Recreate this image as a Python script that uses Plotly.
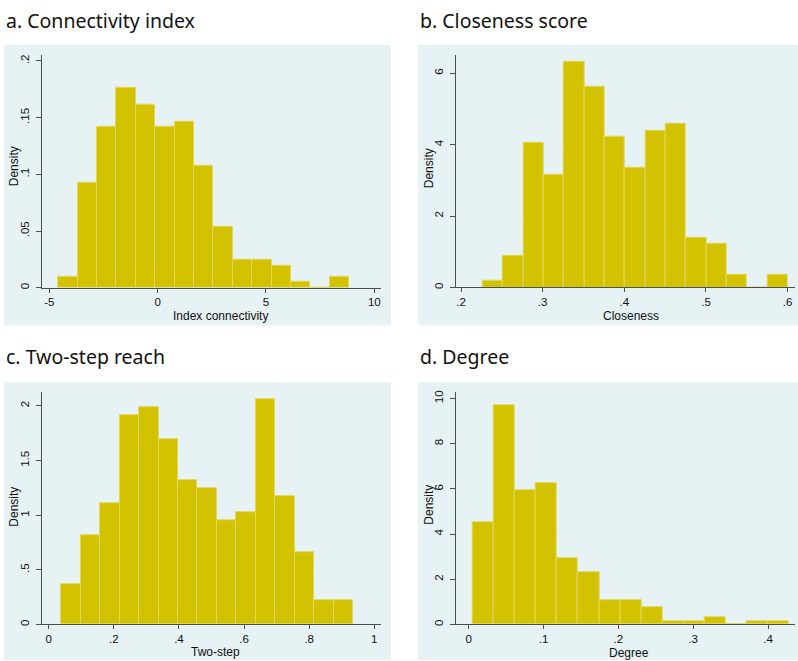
import plotly.graph_objects as go

W, H = 798, 661

# ---- data ----
# a. Connectivity index
a_start = -4.585
a_width = 0.895
a_density = [0.0094, 0.0927, 0.1419, 0.1760, 0.1616, 0.1419, 0.1466, 0.1076,
             0.0540, 0.0246, 0.0246, 0.0194, 0.0050, 0.0, 0.0094]
a_xticks = [-5, 0, 5, 10]
a_xlabels = ["-5", "0", "5", "10"]
a_yticks = [0, 0.05, 0.1, 0.15, 0.2]
a_ylabels = ["0", ".05", ".1", ".15", ".2"]

# b. Closeness score
b_start = 0.2265
b_width = 0.0249
b_density = [0.186, 0.874, 4.056, 3.163, 6.335, 5.628, 4.223, 3.340,
             4.400, 4.577, 1.405, 1.237, 0.344, 0.0, 0.344]
b_xticks = [0.2, 0.3, 0.4, 0.5, 0.6]
b_xlabels = [".2", ".3", ".4", ".5", ".6"]
b_yticks = [0, 2, 4, 6]
b_ylabels = ["0", "2", "4", "6"]

# c. Two-step reach
c_start = 0.0389
c_width = 0.0597
c_density = [0.364, 0.813, 1.105, 1.918, 1.991, 1.693, 1.323, 1.250,
             0.956, 1.029, 2.061, 1.178, 0.662, 0.219, 0.219]
c_xticks = [0, 0.2, 0.4, 0.6, 0.8, 1]
c_xlabels = ["0", ".2", ".4", ".6", ".8", "1"]
c_yticks = [0, 0.5, 1, 1.5, 2]
c_ylabels = ["0", ".5", "1", "1.5", "2"]

# d. Degree
d_start = 0.0058
d_width = 0.0281
d_density = [4.54, 9.72, 5.95, 6.26, 2.95, 2.33, 1.09, 1.09,
             0.76, 0.13, 0.13, 0.31, 0.0, 0.13, 0.13]
d_xticks = [0, 0.1, 0.2, 0.3, 0.4]
d_xlabels = ["0", ".1", ".2", ".3", ".4"]
d_yticks = [0, 2, 4, 6, 8, 10]
d_ylabels = ["0", "2", "4", "6", "8", "10"]

titles = ["a. Connectivity index", "b. Closeness score", "c. Two-step reach", "d. Degree"]
xtitles = ["Index connectivity", "Closeness", "Two-step", "Degree"]

# ---- styling / layout ----
BAR = "#d2c200"
BAR_EDGE = "#e3d75e"
PANEL = "#e6f2f4"
GRID = "#e8f1f2"
AXIS = "#4d4d4d"

panels = [
    dict(start=a_start, width=a_width, dens=a_density, xt=a_xticks, xl=a_xlabels,
         yt=a_yticks, yl=a_ylabels, xr=[-5.337, 10.31], yr=[0, 0.2055],
         px=(42, 381), py=(53, 287), box=(4, 43, 391, 325),
         title_xy=(4, 19), xtitle_xy=(220, 315), ytitle_xy=(14, 165)),
    dict(start=b_start, width=b_width, dens=b_density, xt=b_xticks, xl=b_xlabels,
         yt=b_yticks, yl=b_ylabels, xr=[0.1935, 0.609], yr=[0, 6.52],
         px=(455.7, 795), py=(53, 286.7), box=(418, 43, 798, 325),
         title_xy=(418, 19), xtitle_xy=(631, 315), ytitle_xy=(429, 167)),
    dict(start=c_start, width=c_width, dens=c_density, xt=c_xticks, xl=c_xlabels,
         yt=c_yticks, yl=c_ylabels, xr=[-0.0206, 1.0205], yr=[0, 2.125],
         px=(42, 381), py=(392, 625.3), box=(4, 382, 391, 661),
         title_xy=(4, 356), xtitle_xy=(215, 653), ytitle_xy=(14, 507)),
    dict(start=d_start, width=d_width, dens=d_density, xt=d_xticks, xl=d_xlabels,
         yt=d_yticks, yl=d_ylabels, xr=[-0.01737, 0.436], yr=[0, 10.28],
         px=(455.7, 795), py=(392, 625.3), box=(418, 382, 798, 661),
         title_xy=(418, 356), xtitle_xy=(629, 654), ytitle_xy=(429, 505)),
]

fig = go.Figure()
shapes = []
annotations = []
layout = {}

def fx(px):
    return px / W

def fy(py):
    return 1 - py / H

TICKFONT = dict(family="Liberation Sans, Arial", size=11.5, color="#111")
LABFONT = dict(family="Liberation Sans, Arial", size=12, color="#111")

for i, p in enumerate(panels):
    n = i + 1
    xa = "x" if n == 1 else f"x{n}"
    ya = "y" if n == 1 else f"y{n}"
    centers = [p["start"] + p["width"] * (k + 0.5) for k in range(len(p["dens"]))]
    fig.add_trace(go.Bar(
        x=centers, y=p["dens"], width=[p["width"]] * len(p["dens"]),
        marker=dict(color=BAR, line=dict(color=BAR_EDGE, width=1)),
        xaxis=xa, yaxis=ya, showlegend=False, hoverinfo="x+y",
    ))
    xkey = "xaxis" if n == 1 else f"xaxis{n}"
    ykey = "yaxis" if n == 1 else f"yaxis{n}"
    layout[xkey] = dict(
        domain=[fx(p["px"][0]), fx(p["px"][1])], anchor=ya, range=p["xr"],
        tickmode="array", tickvals=p["xt"], ticktext=p["xl"],
        showgrid=False, zeroline=False, showline=True, linecolor=AXIS, linewidth=1,
        ticks="outside", ticklen=4, tickcolor=AXIS, tickwidth=1,
        tickfont=TICKFONT, fixedrange=True,
    )
    layout[ykey] = dict(
        domain=[fy(p["py"][1]), fy(p["py"][0])], anchor=xa, range=p["yr"],
        tickmode="array", tickvals=p["yt"], ticktext=p["yl"], tickangle=-90,
        showgrid=True, gridcolor=GRID, gridwidth=1, zeroline=False,
        showline=True, linecolor=AXIS, linewidth=1,
        ticks="outside", ticklen=5, tickcolor=AXIS, tickwidth=1,
        ticklabelstandoff=2,
        tickfont=TICKFONT, fixedrange=True,
    )
    x0, y0, x1, y1 = p["box"]
    shapes.append(dict(type="rect", xref="paper", yref="paper", layer="below",
                       x0=fx(x0), x1=fx(x1), y0=fy(y1), y1=fy(y0),
                       fillcolor=PANEL, line=dict(width=0)))
    annotations.append(dict(text=titles[i], xref="paper", yref="paper",
                            x=fx(p["title_xy"][0]), y=fy(p["title_xy"][1]),
                            xanchor="left", yanchor="middle", showarrow=False,
                            font=dict(family="Noto Sans, Open Sans", size=19.5, color="#111")))
    annotations.append(dict(text=xtitles[i], xref="paper", yref="paper",
                            x=fx(p["xtitle_xy"][0]), y=fy(p["xtitle_xy"][1]),
                            xanchor="center", yanchor="middle", showarrow=False,
                            font=LABFONT))
    annotations.append(dict(text="Density", xref="paper", yref="paper", textangle=-90,
                            x=fx(p["ytitle_xy"][0]), y=fy(p["ytitle_xy"][1]),
                            xanchor="center", yanchor="middle", showarrow=False,
                            font=LABFONT))

fig.update_layout(
    width=W, height=H, margin=dict(l=0, r=0, t=0, b=0),
    paper_bgcolor="white", plot_bgcolor="white",
    bargap=0, shapes=shapes, annotations=annotations, **layout,
)

fig.write_html("out.html", config={"displayModeBar": False},
               post_script="document.body.style.margin='0px';document.body.style.overflow='hidden';")
